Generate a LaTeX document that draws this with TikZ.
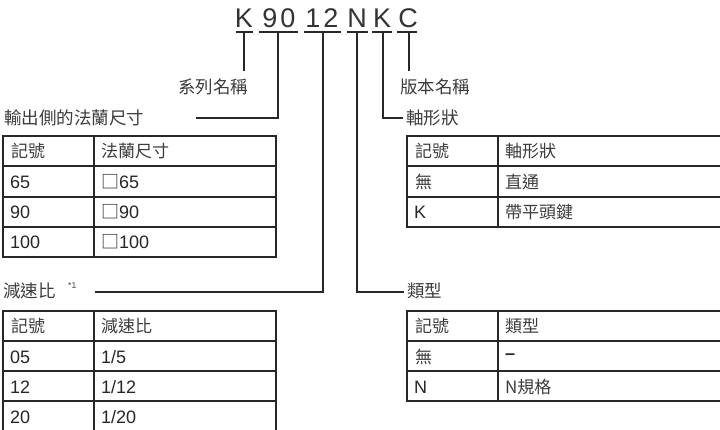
\documentclass[tikz,border=0pt]{standalone}
\usepackage{fontspec}
\setmainfont{Liberation Sans}
\newfontfamily\cjk{Noto Sans CJK TC}
\usepackage{tikz}
\usepackage{xcolor}

\definecolor{inkgray}{RGB}{60,60,60}
\definecolor{rulegray}{RGB}{40,40,40}

\tikzset{
  codeletter/.style={inner sep=0pt,font=\fontsize{27}{30}\selectfont,text=black!80},
  lbl/.style={inner sep=0pt,anchor=west,font=\cjk\fontsize{17.5}{20}\selectfont,text=inkgray},
  cell/.style={inner sep=0pt,anchor=west,font=\fontsize{18}{21}\selectfont,text=black!85},
  cjkcell/.style={cell,font=\cjk\fontsize{17}{20}\selectfont,text=inkgray},
  lead/.style={rulegray,line width=1.1pt},
  grid/.style={rulegray,line width=1.4pt}
}

\begin{document}
\begin{tikzpicture}[x=1pt,y=-1pt,line cap=rect]
\useasboundingbox (0,0) rectangle (720,430);
% model code
\node[codeletter] (cK) at (244,18) {K};
\node[codeletter] (c9) at (270,18) {9};
\node[codeletter] (c0) at (288,18) {0};
\node[codeletter] (c1) at (313,18) {1};
\node[codeletter] (c2) at (331,18) {2};
\node[codeletter] (cN) at (357,18) {N};
\node[codeletter] (cK2) at (382,18) {K};
\node[codeletter] (cC) at (408,18) {C};
\draw[lead] (237,32) -- (252,32);
\draw[lead] (260,32) -- (297,32);
\draw[lead] (305,32) -- (340,32);
\draw[lead] (348,32) -- (367,32);
\draw[lead] (373,32) -- (391,32);
\draw[lead] (398,32) -- (416,32);
\coordinate (uK) at (244,32);
\coordinate (u90) at (278,32);
\coordinate (u12) at (323,32);
\coordinate (uN) at (357,32);
\coordinate (uK2) at (383,32);
\coordinate (uC) at (409,32);

% labels
\node[lbl] (series) at (178,87) {系列名稱};
\node[lbl] (version) at (400,87) {版本名稱};
\node[lbl] (flange) at (4,118) {輸出側的法蘭尺寸};
\node[lbl] (shaft) at (406,118) {軸形狀};
\node[lbl] (ratio) at (3,291) {減速比};
\node[inner sep=0pt,anchor=west,font=\fontsize{8.5}{9}\selectfont,text=inkgray] (star) at (68,286) {*1};
\node[lbl] (type) at (407,291) {類型};
\coordinate (flangeEnd) at (197,118);
\coordinate (shaftEnd) at (402,118);
\coordinate (ratioEnd) at (96,292);
\coordinate (typeEnd) at (403,292);
\coordinate (seriesTop) at (244,70);
\coordinate (versionTop) at (409,70);

% leaders
\draw[lead] (uK) -- (seriesTop);
\draw[lead] (uC) -- (versionTop);
\draw[lead] (u90) |- (flangeEnd);
\draw[lead] (uK2) |- (shaftEnd);
\draw[lead] (u12) |- (ratioEnd);
\draw[lead] (uN) |- (typeEnd);

% flange table
\draw[grid] (3,136) rectangle (276,257);
\draw[grid] (94,136) -- (94,257);
\draw[grid] (3,166) -- (276,166);
\draw[grid] (3,197) -- (276,197);
\draw[grid] (3,227) -- (276,227);
\node[cjkcell] (f00) at (11,151) {記號};
\node[cjkcell] (f01) at (101,151) {法蘭尺寸};
\node[cell] (f10) at (10,182) {65};
\node[cell] (f11) at (101,182) {{\cjk □}65};
\node[cell] (f20) at (10,212) {90};
\node[cell] (f21) at (101,212) {{\cjk □}90};
\node[cell] (f30) at (10,242) {100};
\node[cell] (f31) at (101,242) {{\cjk □}100};

% ratio table
\draw[grid] (3,431) -- (3,311) -- (276,311) -- (276,431);
\draw[grid] (94,311) -- (94,431);
\draw[grid] (3,341) -- (276,341);
\draw[grid] (3,371) -- (276,371);
\draw[grid] (3,401) -- (276,401);
\node[cjkcell] (r00) at (11,326) {記號};
\node[cjkcell] (r01) at (101,326) {減速比};
\node[cell] (r10) at (10,357) {05};
\node[cell] (r11) at (101,357) {1/5};
\node[cell] (r20) at (10,387) {12};
\node[cell] (r21) at (101,387) {1/12};
\node[cell] (r30) at (10,417) {20};
\node[cell] (r31) at (101,417) {1/20};

% shaft table
\draw[grid] (721,136) -- (407,136) -- (407,227) -- (721,227);
\draw[grid] (498,136) -- (498,227);
\draw[grid] (407,166) -- (721,166);
\draw[grid] (407,197) -- (721,197);
\node[cjkcell] (s00) at (415,151) {記號};
\node[cjkcell] (s01) at (505,151) {軸形狀};
\node[cjkcell] (s10) at (415,182) {無};
\node[cjkcell] (s11) at (505,182) {直通};
\node[cell] (s20) at (414,212) {K};
\node[cjkcell] (s21) at (505,212) {帶平頭鍵};

% type table
\draw[grid] (721,311) -- (407,311) -- (407,401) -- (721,401);
\draw[grid] (498,311) -- (498,401);
\draw[grid] (407,341) -- (721,341);
\draw[grid] (407,371) -- (721,371);
\node[cjkcell] (t00) at (415,326) {記號};
\node[cjkcell] (t01) at (505,326) {類型};
\node[cjkcell] (t10) at (415,357) {無};
\node[cell] (t11) at (505,357) {\textbf{–}};
\node[cell] (t20) at (414,387) {N};
\node[cjkcell] (t21) at (505,387) {N規格};
\end{tikzpicture}
\end{document}
